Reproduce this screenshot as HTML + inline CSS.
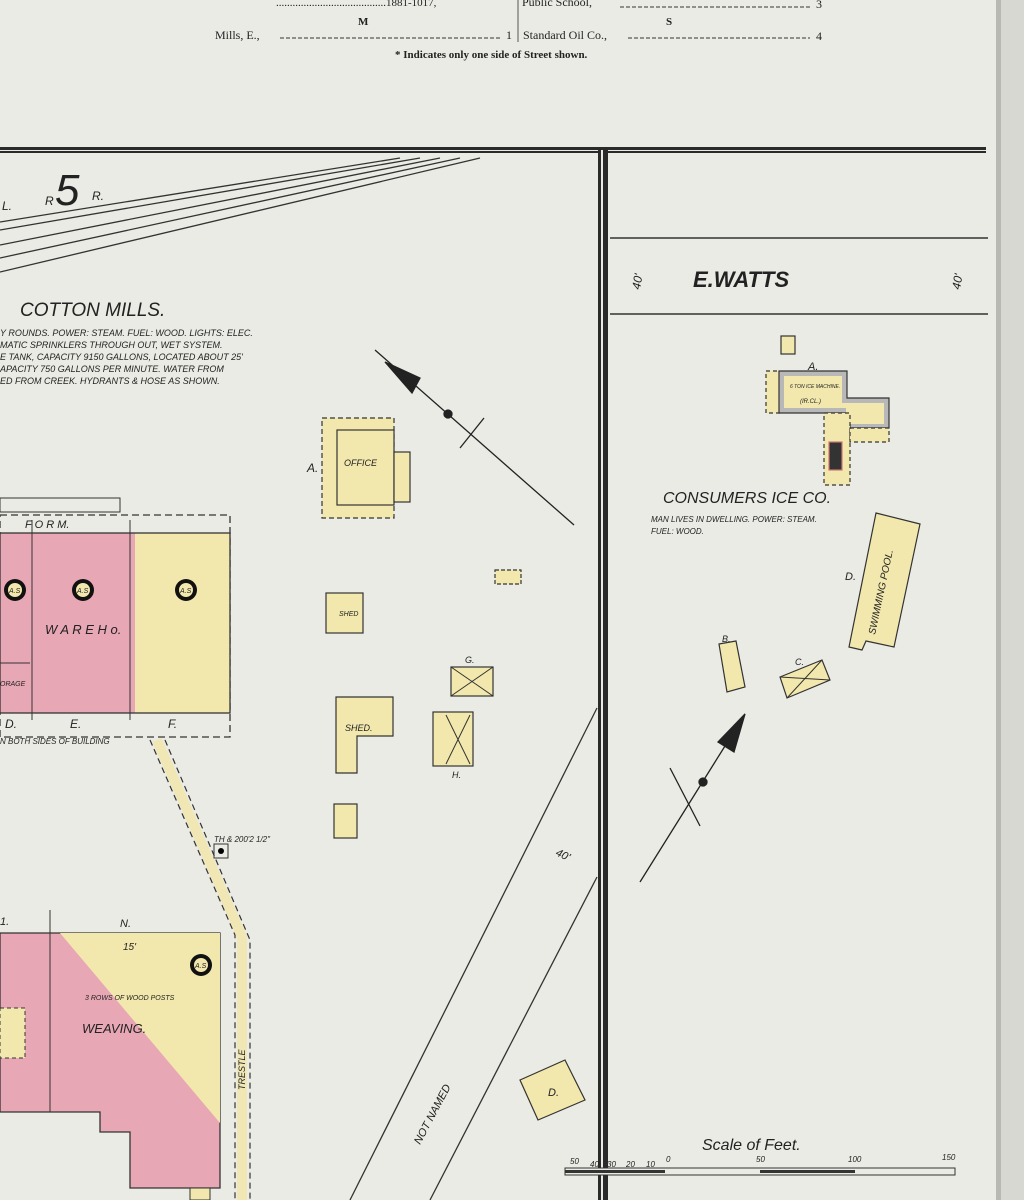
<!DOCTYPE html>
<html><head><meta charset="utf-8"><style>
html,body{margin:0;padding:0;background:#ebebe5;}
svg{display:block}
text{font-family:"Liberation Sans",sans-serif;fill:#222;font-style:italic}
.s{font-family:"Liberation Serif",serif;font-style:normal}
</style></head><body>
<svg width="1024" height="1200" viewBox="0 0 1024 1200" xmlns="http://www.w3.org/2000/svg">
<rect width="1024" height="1200" fill="#ebebe5"/>
<rect x="1000" y="0" width="24" height="1200" fill="#d8d8d2"/>
<rect x="996" y="0" width="5" height="1200" fill="#b9b9b3"/>
<!-- index header -->
<g class="s" font-size="12">
<text class="s" x="276" y="6" font-size="11">........................................1881-1017,</text>
<text class="s" x="522" y="6">Public School,</text>
<line x1="620" y1="7" x2="810" y2="7" stroke="#333" stroke-dasharray="4,2"/>
<text class="s" x="816" y="8">3</text>
<text class="s" x="358" y="25" font-size="11" font-weight="bold">M</text>
<text class="s" x="666" y="25" font-size="11" font-weight="bold">S</text>
<text class="s" x="215" y="39">Mills, E.,</text>
<line x1="280" y1="38" x2="500" y2="38" stroke="#333" stroke-dasharray="4,2"/>
<text class="s" x="506" y="39">1</text>
<text class="s" x="523" y="39">Standard Oil Co.,</text>
<line x1="628" y1="38" x2="810" y2="38" stroke="#333" stroke-dasharray="4,2"/>
<text class="s" x="816" y="40">4</text>
<text class="s" x="395" y="58" font-size="11" font-weight="bold">* Indicates only one side of Street shown.</text>
</g>
<line x1="518" y1="0" x2="518" y2="42" stroke="#555"/>
<!-- frame lines -->
<rect x="0" y="147" width="986" height="6" fill="#2a2a2a"/>
<rect x="0" y="150" width="986" height="1" fill="#ebebe5"/>
<rect x="598" y="150" width="10" height="1050" fill="#2a2a2a"/>
<rect x="601" y="150" width="2" height="1050" fill="#ebebe5"/>
<!-- E Watts street -->
<line x1="610" y1="238" x2="988" y2="238" stroke="#333" stroke-width="1.5"/>
<line x1="610" y1="314" x2="988" y2="314" stroke="#333" stroke-width="1.5"/>
<text x="693" y="287" font-size="22" font-weight="bold" font-style="normal">E.WATTS</text>
<text x="640" y="290" font-size="12" transform="rotate(-80 640 290)">40'</text>
<text x="960" y="290" font-size="12" transform="rotate(-80 960 290)">40'</text>
<!-- railroad -->
<g stroke="#333" stroke-width="1.3" fill="none">
<path d="M0,230 L420,158"/><path d="M0,245 L440,158"/><path d="M0,258 L460,158"/><path d="M0,272 L480,158"/><path d="M0,222 L400,158"/>
</g>
<text x="55" y="205" font-size="44" font-style="normal">5</text>
<text x="2" y="210" font-size="12">L.</text><text x="45" y="205" font-size="12">R</text><text x="92" y="200" font-size="12">R.</text>
<!-- cotton mills text -->
<text x="20" y="316" font-size="19">COTTON MILLS.</text>
<g font-size="9">
<text x="0" y="336">Y ROUNDS. POWER: STEAM. FUEL: WOOD. LIGHTS: ELEC.</text>
<text x="0" y="348">MATIC SPRINKLERS THROUGH OUT, WET SYSTEM.</text>
<text x="0" y="360">E TANK, CAPACITY 9150 GALLONS, LOCATED ABOUT 25'</text>
<text x="0" y="372">APACITY 750 GALLONS PER MINUTE. WATER FROM</text>
<text x="0" y="384">ED FROM CREEK. HYDRANTS &amp; HOSE AS SHOWN.</text>
</g>
<!-- north arrows -->
<g stroke="#222" stroke-width="1.3" fill="#222">
<line x1="375" y1="350" x2="574" y2="525"/><polygon points="385,362 420,378 412,393 "/><circle cx="448" cy="414" r="4"/><line x1="460" y1="448" x2="484" y2="418"/>
<line x1="640" y1="882" x2="745" y2="714"/><polygon points="745,714 734,752 718,742"/><circle cx="703" cy="782" r="4"/><line x1="670" y1="768" x2="700" y2="826"/>
</g>
<!-- warehouse -->
<rect x="0" y="515" width="230" height="222" fill="none" stroke="#333" stroke-dasharray="7,4" stroke-width="1.3"/>
<rect x="0" y="533" width="135" height="180" fill="#e8a7b4"/>
<rect x="135" y="533" width="95" height="180" fill="#f2e8ad"/>
<rect x="0" y="533" width="230" height="180" fill="none" stroke="#333" stroke-width="1.3"/>
<line x1="32" y1="520" x2="32" y2="720" stroke="#333"/><line x1="130" y1="520" x2="130" y2="720" stroke="#333"/>
<line x1="0" y1="663" x2="30" y2="663" stroke="#333"/>
<g fill="#111"><circle cx="15" cy="590" r="11"/><circle cx="83" cy="590" r="11"/><circle cx="186" cy="590" r="11"/></g>
<g fill="#f2e8ad"><circle cx="15" cy="590" r="7"/><circle cx="83" cy="590" r="7"/><circle cx="186" cy="590" r="7"/></g>
<g font-size="7" font-style="normal"><text x="9" y="593">A.S</text><text x="77" y="593">A.S</text><text x="180" y="593">A.S</text></g>
<text x="45" y="634" font-size="13">W A R E   H o.</text>
<text x="0" y="686" font-size="7">ORAGE</text>
<text x="25" y="528" font-size="11">F  O  R  M.</text>
<text x="5" y="728" font-size="12">D.</text><text x="70" y="728" font-size="12">E.</text><text x="168" y="728" font-size="12">F.</text>
<text x="0" y="744" font-size="8">N BOTH SIDES OF BUILDING</text>
<rect x="0" y="498" width="120" height="14" fill="none" stroke="#333"/>
<!-- trestle -->
<path d="M150,740 L235,935 L235,1200 M165,740 L250,940 L250,1200" stroke="#333" stroke-dasharray="6,4" fill="none" stroke-width="1.2"/>
<path d="M157,740 L242,937 L242,1200" stroke="#f2e6a8" stroke-width="10" fill="none" opacity=".8"/>
<text x="245" y="1090" font-size="9" transform="rotate(-90 245 1090)">TRESTLE</text>
<!-- weaving -->
<polygon points="0,933 220,933 220,1188 130,1188 130,1132 100,1132 100,1112 0,1112" fill="#e8a7b4" stroke="#333" stroke-width="1.3"/>
<polygon points="60,933 220,933 220,1123" fill="#f2e8ad"/>
<line x1="50" y1="910" x2="50" y2="1112" stroke="#333"/>
<rect x="0" y="1008" width="25" height="50" fill="#f2e8ad" stroke="#333" stroke-dasharray="4,3"/>
<circle cx="201" cy="965" r="11" fill="#111"/><circle cx="201" cy="965" r="7" fill="#f2e8ad"/><text x="195" y="968" font-size="7" font-style="normal">A.S</text>
<text x="82" y="1033" font-size="13">WEAVING.</text><text x="85" y="1000" font-size="7">3 ROWS OF WOOD POSTS</text>
<text x="123" y="950" font-size="10">15'</text><text x="0" y="925" font-size="11">1.</text><text x="120" y="927" font-size="11">N.</text>
<rect x="190" y="1188" width="20" height="12" fill="#f2e8ad" stroke="#333"/>
<text x="214" y="842" font-size="8">TH &amp; 200'2 1/2"</text><rect x="214" y="844" width="14" height="14" fill="none" stroke="#333"/><circle cx="221" cy="851" r="3"/>
<!-- small buildings middle -->
<g fill="#f2e8ad" stroke="#333" stroke-width="1.2">
<rect x="322" y="418" width="72" height="100" stroke-dasharray="5,3"/>
<rect x="337" y="430" width="57" height="75"/><rect x="394" y="452" width="16" height="50"/>
<rect x="495" y="570" width="26" height="14" stroke-dasharray="4,2"/>
<rect x="326" y="593" width="37" height="40"/>
<polygon points="336,697 393,697 393,736 357,736 357,773 336,773"/>
<rect x="334" y="804" width="23" height="34"/>
<rect x="451" y="667" width="42" height="29"/>
<rect x="433" y="712" width="40" height="54"/>
<polygon points="520,1080 565,1060 585,1100 538,1120"/>
</g>
<g stroke="#333" fill="none"><path d="M451,667 L493,696 M493,667 L451,696 M446,715 L470,764 M470,715 L446,764"/></g>
<text x="344" y="466" font-size="9">OFFICE</text><text x="307" y="472" font-size="12">A.</text>
<text x="339" y="616" font-size="7">SHED</text><text x="345" y="731" font-size="9">SHED.</text>
<text x="465" y="663" font-size="9">G.</text><text x="452" y="778" font-size="9">H.</text>
<text x="548" y="1096" font-size="11">D.</text>
<!-- not named street -->
<line x1="350" y1="1200" x2="597" y2="708" stroke="#333" stroke-width="1.3"/>
<line x1="430" y1="1200" x2="597" y2="877" stroke="#333" stroke-width="1.3"/>
<text x="420" y="1145" font-size="11" transform="rotate(-62 420 1145)">NOT NAMED</text>
<text x="555" y="855" font-size="11" transform="rotate(25 555 855)">40'</text>
<!-- consumers ice -->
<g stroke="#333" stroke-width="1.2">
<rect x="781" y="336" width="14" height="18" fill="#f2e8ad"/>
<rect x="766" y="371" width="14" height="42" fill="#f2e8ad" stroke-dasharray="4,3"/>
<polygon points="779,371 847,371 847,398 889,398 889,428 850,428 850,413 779,413" fill="#b8b8b8"/>
<polygon points="784,376 842,376 842,403 884,403 884,424 846,424 846,408 784,408" fill="#f2e8ad" stroke="none"/>
<rect x="824" y="413" width="26" height="72" fill="#f2e8ad" stroke-dasharray="4,3"/>
<rect x="850" y="428" width="39" height="14" fill="#f2e8ad" stroke-dasharray="4,3"/>
<rect x="829" y="442" width="13" height="28" fill="#333" stroke="#c77"/>
<polygon points="876,513 920,524 894,647 866,641 862,650 849,647" fill="#f2e8ad"/>
<polygon points="719,644 736,641 745,687 727,692" fill="#f2e8ad"/>
<polygon points="780,677 822,660 830,680 787,698" fill="#f2e8ad"/>
</g>
<path d="M780,677 L830,680 M822,660 L787,698" stroke="#333" fill="none"/>
<text x="808" y="370" font-size="11">A.</text>
<text x="790" y="388" font-size="5">6 TON ICE MACHINE.</text><text x="800" y="403" font-size="6">(IR.CL.)</text>
<text x="663" y="503" font-size="16">CONSUMERS ICE CO.</text>
<text x="651" y="522" font-size="8">MAN LIVES IN DWELLING. POWER: STEAM.</text>
<text x="651" y="534" font-size="8">FUEL: WOOD.</text>
<text x="845" y="580" font-size="11">D.</text>
<text x="875" y="635" font-size="10" transform="rotate(-78 875 635)">SWIMMING POOL.</text>
<text x="722" y="642" font-size="9">B.</text><text x="795" y="665" font-size="9">C.</text>
<!-- scale -->
<text x="702" y="1150" font-size="16" font-style="normal">Scale of Feet.</text>
<g font-size="8" font-style="normal"><text x="570" y="1164">50</text><text x="590" y="1167">40</text><text x="607" y="1167">30</text><text x="626" y="1167">20</text><text x="646" y="1167">10</text><text x="666" y="1162">0</text><text x="756" y="1162">50</text><text x="848" y="1162">100</text><text x="942" y="1160">150</text></g>
<rect x="565" y="1168" width="390" height="7" fill="#ebebe5" stroke="#333"/>
<rect x="565" y="1170" width="100" height="3" fill="#333"/><rect x="760" y="1170" width="95" height="3" fill="#333"/>
</svg>
</body></html>
